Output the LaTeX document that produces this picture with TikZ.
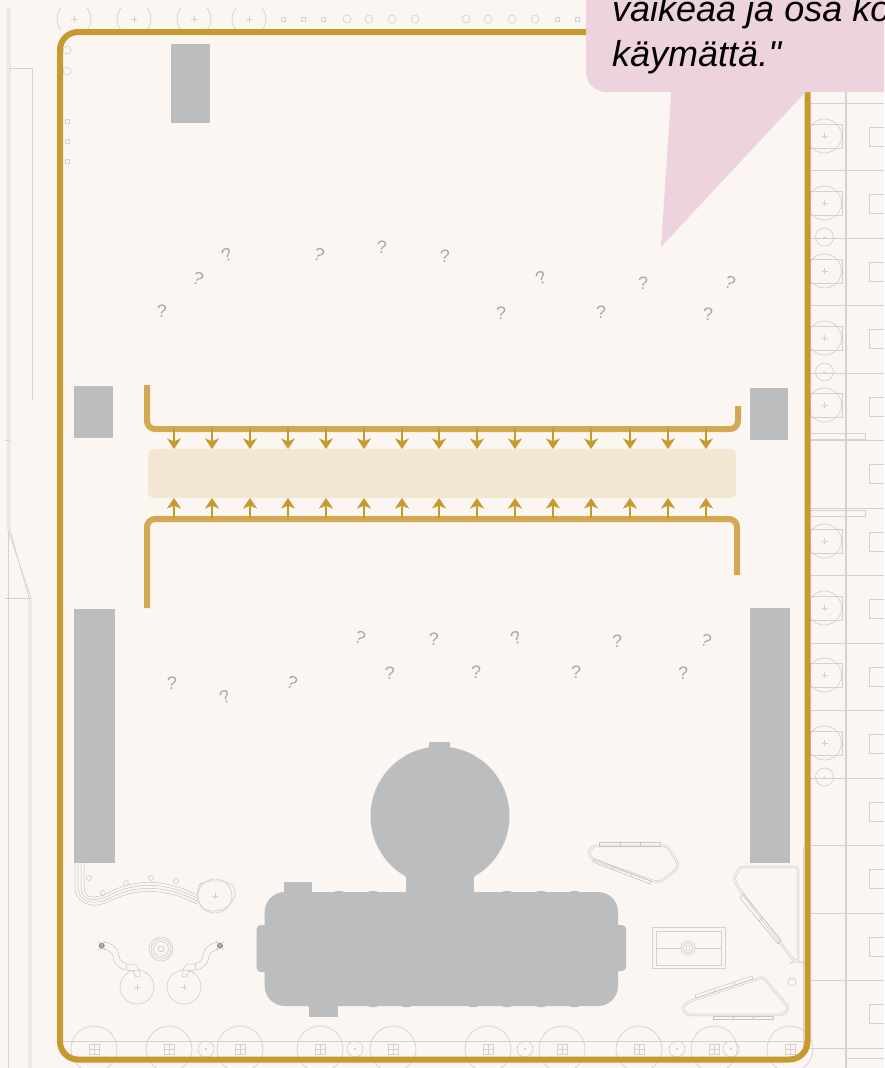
\documentclass[tikz,border=0pt]{standalone}
\usepackage{fontspec}
\setmainfont{Liberation Sans}
\newfontfamily\quotefont{Liberation Sans}
\usetikzlibrary{arrows.meta}
\definecolor{paperclr}{HTML}{FBF6F1}
\definecolor{frameclr}{HTML}{C69A2F}
\definecolor{railclr}{HTML}{D2A855}
\definecolor{bandclr}{HTML}{F4E7D1}
\definecolor{blockclr}{HTML}{BBBDBF}
\definecolor{planclr}{HTML}{D4D2CE}
\definecolor{wallclr}{HTML}{C8C6C2}
\definecolor{markclr}{HTML}{ABA9A7}
\definecolor{bubbleclr}{HTML}{ECD3DE}
\tikzset{
  plan/.style={draw=planclr,line width=0.7pt},
  planfat/.style={draw=planclr,line width=1.4pt},
  wall/.style={draw=wallclr,double=paperclr,double distance=1.2pt,line width=0.55pt,rounded corners=3pt},
  strip/.style={draw=wallclr,line width=0.6pt},
  block/.style={fill=blockclr},
  rail/.style={draw=railclr,line width=6pt,rounded corners=8pt},
  frameline/.style={draw=frameclr,line width=6pt,rounded corners=18pt},
  down/.style={draw=frameclr,line width=2.7pt,-{Stealth[length=10.5pt,width=14pt,inset=2.8pt]}},
  qmark/.style={text=markclr,font=\fontsize{18}{18}\selectfont,inner sep=0pt},
  quote/.style={font=\quotefont\fontsize{36}{45}\selectfont\itshape,align=left,inner sep=0pt,anchor=north west},
  pump/.pic={
    \draw[plan] (0,0) circle (17);
    \draw[plan] (-3,0) -- (3,0) (0,-3) -- (0,3);
  },
  tub/.pic={
    \draw[plan] (0,0) circle (23);
    \draw[plan] (-5,-5) rectangle (5,5) (-5,0) -- (5,0) (0,-5) -- (0,5);
  },
}
\begin{document}
\begin{tikzpicture}[x=1pt,y=-1pt]
\useasboundingbox (0,0) rectangle (884,1068);
\clip (0,0) rectangle (884,1068);
\fill[paperclr] (0,0) rectangle (884,1068);

% Left edge
\draw[plan] (8,8) -- (8,530) -- (31,598) -- (31,1068);
\draw[plan] (10,8) -- (10,530) -- (29,598) -- (29,1068);
\draw[plan,line width=0.4pt] (8,530) -- (8,1068);
\draw[plan] (9,68) -- (32,68) -- (32,400);
\draw[plan] (5,598) -- (31,598) (5,440) -- (10,440);

% Top row
\foreach \cx in {74,134,194,249}{
  \draw[plan] (\cx-13,8) arc[start angle=-140,end angle=-220,radius=17];
  \draw[plan] (\cx+13,8) arc[start angle=-40,end angle=40,radius=17];
  \draw[plan] (\cx-3,19) -- (\cx+3,19) (\cx,16) -- (\cx,22);
}
\foreach \cx in {283,303,323,557,577}
  \draw[plan] (\cx-2,17) rectangle (\cx+2,21);
\foreach \cx in {347,369,392,415,466,488,512,535}
  \draw[plan] (\cx,19) circle (4);
\foreach \cy in {50,71}
  \draw[plan] (67,\cy) circle (4);
\foreach \cy in {121,141,161}
  \draw[plan] (65,\cy-2) rectangle (69,\cy+2);

% Right side rooms
\draw[planfat] (846,90) -- (846,1068);
\foreach \i in {0,...,14}
  \draw[plan] (808,103+67.5*\i) -- (884,103+67.5*\i);
\foreach \i in {0,...,13}
  \draw[plan] (869,127+67.5*\i) rectangle (890,146+67.5*\i);
\foreach \cy in {136,203,271,338,405,541,608,675,743}{
  \draw[plan] (810,\cy-12) rectangle (842,\cy+12);
  \pic at (824.5,\cy) {pump};
}
\foreach \cy in {237,372,777}{
  \draw[plan] (824.5,\cy) circle (9);
  \draw[plan] (823,\cy) -- (826,\cy);
}
\draw[plan] (808,433) rectangle (865,439);
\draw[plan] (808,510) rectangle (865,516);
\draw[plan] (846,1058) -- (884,1058);

% Bottom row
\draw[plan] (60,1041.5) -- (808,1041.5);
\foreach \cx in {94,169,240,320,393,488,562,639,714,790}
  \pic at (\cx,1049) {tub};
\foreach \cx in {206,355,525,677,731}{
  \draw[plan] (\cx,1049) circle (8);
  \fill[wallclr] (\cx,1049) circle (1.2);
}
\draw[plan] (803,847) -- (803,1048);

% Grey blocks
\fill[block] (171,44) rectangle (210,123);
\fill[block] (74,386) rectangle (113,438);
\fill[block] (750,388) rectangle (788,440);
\fill[block] (74,609) rectangle (115,863);
\fill[block] (750,608) rectangle (790,863);

% Tank
\fill[block] (440,816) circle (69.5);
\fill[block] (429,742) rectangle (450,752);
\fill[block] (406,860) rectangle (474,900);
\fill[block,rounded corners=20pt] (264.7,892) rectangle (618,1006);
\fill[block,rounded corners=4pt] (256.7,925) rectangle (280,972);
\fill[block,rounded corners=4pt] (600,925) rectangle (626,971);
\fill[block] (284,882) rectangle (312,896);
\fill[block] (309,1000) rectangle (338,1017);
\foreach \cx in {339,373,507,541,574}
  \fill[block,rounded corners=0.5pt] (\cx-4,891) rectangle (\cx+4,896);
\foreach \cx in {312,373,406,473,507,541,574}
  \fill[block,rounded corners=0.5pt] (\cx-4,1000) rectangle (\cx+4,1007);

% Pipes from the long block
\foreach \d in {0,1,2,3}
  \draw[strip,line width=0.5pt] (75+3*\d,863) -- (75+3*\d,886)
    .. controls (75+3*\d,904-2*\d) and (92,909-3*\d) .. (108,902-3*\d)
    .. controls (130,890-3*\d) and (160,885-3*\d) .. (197,904-3*\d);
\draw[plan] (89,878) circle (2.5) (103,893) circle (2.5) (126,883) circle (2.5)
            (151,878) circle (2.5) (176,881) circle (2.5);
\pic at (215,896) {pump};
\draw[plan,rounded corners=7pt] (197,888) -- (203,881) -- (228,881) -- (237,890) -- (233,902) -- (222,911) -- (205,911) -- (197,902) -- cycle;

% Pump pair
\pic at (137,987) {pump};
\pic at (184,987) {pump};
\fill[black!45] (101.7,945.7) circle (3);
\fill[black!45] (220,945.7) circle (3);
\draw[strip,line width=0.5pt] (98,941) -- (105.5,950) (98,950) -- (105.5,941) (216,950) -- (224,941) (216,941) -- (224,950);
\draw[strip,line width=0.5pt] (103,942) .. controls (114,943) and (119,950) .. (119,956);
\draw[strip,line width=0.5pt] (103,949) .. controls (109,950) and (112,953) .. (113,956);
\draw[strip,line width=0.5pt] (113,956) .. controls (113,963) and (118,968) .. (126,970) -- (127,964) .. controls (123,963) and (119,960) .. (119,956);
\draw[strip,line width=0.5pt] (126,964) -- (134,964) .. controls (138,966) and (140,970) .. (140,976);
\draw[strip,line width=0.5pt] (126,970) -- (133,971) -- (136,977) -- (140,976);
\draw[strip,line width=0.5pt] (219,942) .. controls (208,943) and (203,950) .. (203,956);
\draw[strip,line width=0.5pt] (219,949) .. controls (213,950) and (210,953) .. (209,956);
\draw[strip,line width=0.5pt] (209,956) .. controls (209,963) and (204,968) .. (196,970) -- (195,964) .. controls (199,963) and (203,960) .. (203,956);
\draw[strip,line width=0.5pt] (196,964) -- (188,964) .. controls (184,966) and (182,970) .. (182,976);
\draw[strip,line width=0.5pt] (196,970) -- (189,971) -- (186,977) -- (182,976);
\foreach \r in {12,10,7.5}
  \draw[plan] (161,949) circle (\r);
\draw[plan,rounded corners=1pt] (158.5,946.5) rectangle (163.5,951.5);

% Right hand wedges
\draw[wall] (588,852) -- (593,846) -- (667,846) -- (678,863) -- (677,869) -- (660,882) -- (653,881) -- (592,859) -- cycle;
\draw[strip] (599,842) rectangle (660,846) (620,842) -- (620,846) (640,842) -- (640,846);
\draw[strip] (594,859) -- (651,881) -- (650,884) -- (593,862) -- cycle (613,867) -- (612,870) (632,874) -- (631,877);
\draw[wall] (740,867) -- (798,867) -- (798,962) -- (795,962) -- (737,886) -- (734,878) -- cycle;
\draw[strip] (743,894) -- (781,940) -- (778,944) -- (740,898) -- cycle (762,917) -- (759,921);
\draw[wall] (688,1002) -- (763,977) -- (789,1008) -- (783,1015) -- (687,1015) -- (682,1008) -- cycle;
\draw[strip] (695,995) -- (752,976) -- (753,979) -- (696,998) -- cycle (714,989) -- (715,992) (734,982) -- (735,985);
\draw[strip] (713,1016) rectangle (773,1019) (733,1016) -- (733,1019) (753,1016) -- (753,1019);
\draw[plan] (792,982) circle (4);
\draw[plan] (652,927) rectangle (725,968) (656,931) rectangle (721,965) (656,948) -- (681,948) (695,948) -- (721,948);
\draw[plan] (688,948) circle (7) (688,948) circle (5) (686,946) rectangle (690,950);

% Band and rails
\fill[bandclr,rounded corners=6pt] (148,449) rectangle (736,498);
\draw[rail] (147,385) -- (147,429) -- (738,429) -- (738,406);
\draw[rail] (147,608) -- (147,519) -- (737,519) -- (737,575);
\foreach \cx in {174,212,250,288,326,364,402,439,477,515,553,591,630,668,706}{
  \draw[down] (\cx,428) -- (\cx,449);
  \draw[down] (\cx,518) -- (\cx,498);
}

% Question marks
\foreach \cx/\cy/\tilt in {162/311/0,198/279/-22,227/255/22,319/255/-22,382/247/0,445/256/0,
    501/313/0,541/278/22,601/312/0,643/283/0,708/314/0,730/283/-22,
    172/683/0,225/697/22,292/683/-22,360/638/-22,390/673/0,434/639/0,476/672/0,
    516/638/22,576/672/0,617/641/0,683/673/0,706/641/-22}
  \node[qmark,rotate=\tilt] at (\cx,\cy) {?};

% Frame
\draw[frameline] (60,32) rectangle (807.5,1059.5);

% Speech bubble
\fill[bubbleclr] (672,80) -- (661,247) -- (812,85) -- cycle;
\fill[bubbleclr,rounded corners=20pt] (586,-40) rectangle (930,92);
\node[quote] (quotetext) at (612,-5) {vaikeaa ja osa ko\\käymättä."};
\end{tikzpicture}
\end{document}
